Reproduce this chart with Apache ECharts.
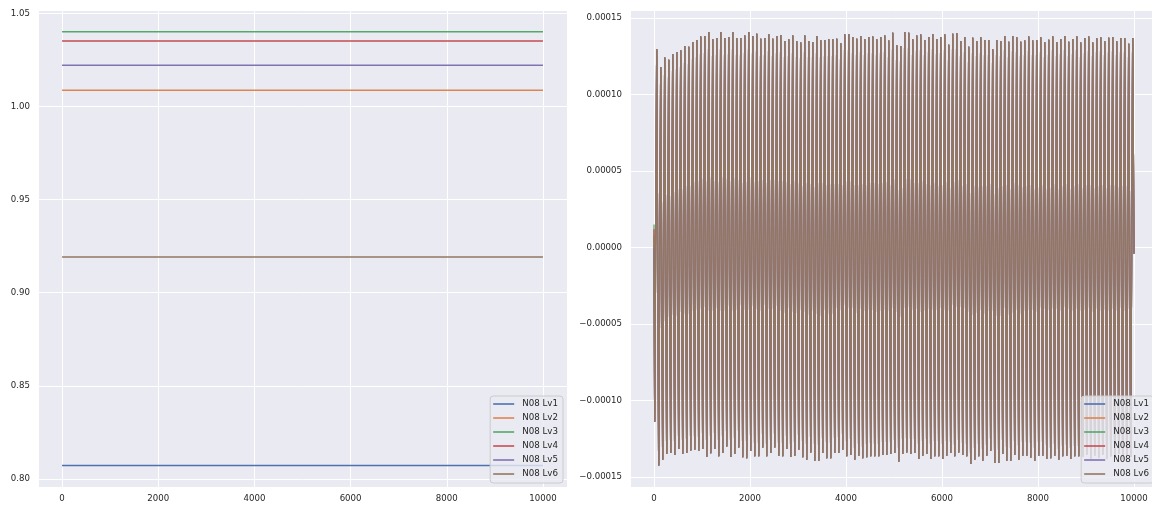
<!DOCTYPE html>
<html>
<head>
<meta charset="utf-8">
<title>N08 levels</title>
<script src="https://cdn.jsdelivr.net/npm/echarts@6/dist/echarts.min.js"></script>
<style>
  html, body { margin: 0; padding: 0; background: #ffffff; }
  #chart { width: 1152px; height: 506px; }
</style>
</head>
<body>
<div id="chart"></div>
<script>
// ---- series names and colours (seaborn "deep" palette) ----
const seriesNames = ['N08 Lv1', 'N08 Lv2', 'N08 Lv3', 'N08 Lv4', 'N08 Lv5', 'N08 Lv6'];
const seriesColors = ['#4C72B0', '#DD8452', '#55A868', '#C44E52', '#8172B3', '#937860'];

// ---- left panel: level of each series over time ----
const levelTimes = [0, 2000, 4000, 6000, 8000, 10000];
const lv1Level = [0.8073, 0.8073, 0.8073, 0.8073, 0.8073, 0.8073];
const lv2Level = [1.0087, 1.0087, 1.0087, 1.0087, 1.0087, 1.0087];
const lv3Level = [1.0401, 1.0401, 1.0401, 1.0401, 1.0401, 1.0401];
const lv4Level = [1.0352, 1.0352, 1.0352, 1.0352, 1.0352, 1.0352];
const lv5Level = [1.0221, 1.0221, 1.0221, 1.0221, 1.0221, 1.0221];
const lv6Level = [0.9192, 0.9192, 0.9192, 0.9192, 0.9192, 0.9192];

// ---- right panel: oscillation, one trough and one peak per cycle ----
const cycleLength = 83.33;      // time units per oscillation cycle
const troughOffset = 14.6;      // time of the first trough
const peakOffset = 56.3;        // time of the first peak
const startValues = [0, 0, 15e-6, 12e-6, 0, 8e-6];   // value at t = 0 for Lv1..Lv6
const endTime = 10000;
const endValue = -4e-6;

const troughValues = [
  -114.0e-6,-142.6e-6,-138.8e-6,-135.1e-6,-134.4e-6,-135.7e-6,-131.8e-6,-135.1e-6,-134.4e-6,-132.7e-6,
  -132.2e-6,-132.9e-6,-131.8e-6,-136.8e-6,-134.6e-6,-131.8e-6,-136.5e-6,-134.4e-6,-130.1e-6,-137.0e-6,
  -135.1e-6,-130.8e-6,-137.2e-6,-137.8e-6,-133.1e-6,-136.5e-6,-136.5e-6,-130.8e-6,-136.5e-6,-134.4e-6,
  -130.8e-6,-136.1e-6,-136.5e-6,-131.8e-6,-137.0e-6,-136.1e-6,-132.2e-6,-137.2e-6,-138.8e-6,-134.0e-6,
  -139.4e-6,-139.4e-6,-134.4e-6,-137.8e-6,-137.8e-6,-134.4e-6,-134.4e-6,-132.2e-6,-136.5e-6,-135.7e-6,
  -138.8e-6,-136.1e-6,-137.8e-6,-137.2e-6,-136.5e-6,-136.5e-6,-136.5e-6,-135.7e-6,-135.7e-6,-135.1e-6,
  -134.4e-6,-140.1e-6,-135.1e-6,-134.0e-6,-135.1e-6,-134.4e-6,-138.3e-6,-136.1e-6,-135.1e-6,-138.3e-6,
  -136.5e-6,-136.5e-6,-138.3e-6,-136.1e-6,-134.4e-6,-136.5e-6,-134.0e-6,-135.7e-6,-136.5e-6,-141.5e-6,
  -138.8e-6,-136.5e-6,-139.4e-6,-136.1e-6,-132.9e-6,-140.9e-6,-140.9e-6,-135.1e-6,-139.4e-6,-139.4e-6,
  -135.7e-6,-138.8e-6,-136.1e-6,-136.1e-6,-137.4e-6,-139.4e-6,-136.1e-6,-136.1e-6,-138.3e-6,-137.8e-6,
  -136.1e-6,-138.8e-6,-136.5e-6,-136.1e-6,-138.3e-6,-136.5e-6,-136.5e-6,-137.0e-6,-135.5e-6,-138.0e-6,
  -136.0e-6,-137.5e-6,-135.5e-6,-138.0e-6,-136.5e-6,-137.0e-6,-135.0e-6,-138.5e-6,-136.0e-6,-137.0e-6
];
const peakValues = [
  129.7e-6,118.0e-6,124.2e-6,122.7e-6,126.6e-6,127.9e-6,129.0e-6,131.8e-6,131.2e-6,134.4e-6,
  135.7e-6,137.9e-6,138.3e-6,140.9e-6,136.1e-6,137.0e-6,140.9e-6,137.0e-6,137.6e-6,140.9e-6,
  136.8e-6,137.0e-6,138.7e-6,140.9e-6,138.3e-6,139.8e-6,136.5e-6,137.0e-6,139.4e-6,136.5e-6,
  138.3e-6,138.9e-6,135.1e-6,136.1e-6,138.7e-6,134.9e-6,134.0e-6,138.7e-6,135.1e-6,134.4e-6,
  138.3e-6,135.5e-6,135.7e-6,136.1e-6,136.1e-6,136.5e-6,133.5e-6,139.4e-6,139.4e-6,137.6e-6,
  136.5e-6,138.3e-6,136.1e-6,137.6e-6,137.9e-6,136.1e-6,137.6e-6,138.7e-6,135.3e-6,140.5e-6,
  132.3e-6,131.8e-6,140.9e-6,140.5e-6,136.1e-6,138.7e-6,139.2e-6,135.7e-6,137.6e-6,139.6e-6,
  136.3e-6,137.6e-6,139.4e-6,132.5e-6,139.8e-6,140.3e-6,135.1e-6,137.6e-6,131.2e-6,137.2e-6,
  135.1e-6,137.4e-6,135.7e-6,135.7e-6,129.7e-6,135.7e-6,135.1e-6,138.3e-6,134.6e-6,138.3e-6,
  137.4e-6,134.6e-6,135.3e-6,137.9e-6,135.3e-6,135.7e-6,137.4e-6,134.2e-6,135.9e-6,138.1e-6,
  134.4e-6,136.3e-6,138.3e-6,134.6e-6,136.3e-6,138.1e-6,134.0e-6,137.0e-6,137.9e-6,134.0e-6,
  136.8e-6,137.4e-6,134.9e-6,137.2e-6,137.6e-6,134.9e-6,137.0e-6,137.0e-6,133.3e-6,137.0e-6
];

// ---- styling ----
const PANEL_BG = '#EAEAF2';
const TEXT_COLOR = '#262626';
const TICK_FONT = 8.6;

// Pair the level arrays with their time stamps.
const levelArrays = [lv1Level, lv2Level, lv3Level, lv4Level, lv5Level, lv6Level];
function levelData(values) {
  return values.map((v, i) => [levelTimes[i], v]);
}

// Alternate troughs and peaks along the cycle time base.
function oscillationData(startValue) {
  const pts = [[0, startValue]];
  for (let k = 0; k < troughValues.length; k++) {
    pts.push([troughOffset + k * cycleLength, troughValues[k]]);
    pts.push([peakOffset + k * cycleLength, peakValues[k]]);
  }
  pts.push([endTime, endValue]);
  return pts;
}

function valueAxis(gridIndex, min, max, formatter, isX) {
  return {
    type: 'value',
    gridIndex: gridIndex,
    min: min,
    max: max,
    splitNumber: 5,
    axisLine: { show: false },
    axisTick: { show: false },
    axisLabel: {
      show: true,
      color: TEXT_COLOR,
      fontSize: TICK_FONT,
      fontFamily: 'DejaVu Sans',
      margin: isX ? 7 : 8,
      showMinLabel: false,
      showMaxLabel: false,
      formatter: formatter
    },
    splitLine: { show: true, lineStyle: { color: '#ffffff', width: 1 } }
  };
}

const timeFormatter = v => String(Math.round(v));
const levelFormatter = v => v.toFixed(2);
const smallFormatter = v => {
  const s = Math.abs(v).toFixed(5);
  return (v < -1e-12 ? '\u2212' : '') + s;
};

function legendFor(rightPx) {
  return {
    data: seriesNames.map(n => ({ name: n, icon: 'rect' })),
    orient: 'vertical',
    right: rightPx,
    bottom: 23,
    itemWidth: 21,
    itemHeight: 1.6,
    itemGap: 4,
    padding: [3, 5, 4, 3],
    backgroundColor: 'rgba(234,234,242,0.8)',
    borderColor: '#cccccc',
    borderWidth: 1,
    borderRadius: 3,
    textStyle: {
      color: TEXT_COLOR,
      fontSize: 8.7,
      fontFamily: 'DejaVu Sans',
      lineHeight: 10,
      padding: [0, 0, 0, 3]
    }
  };
}

const series = [];
seriesNames.forEach((name, i) => {
  series.push({
    name: name,
    type: 'line',
    xAxisIndex: 0,
    yAxisIndex: 0,
    data: levelData(levelArrays[i]),
    symbol: 'none',
    lineStyle: { color: seriesColors[i], width: 1.5 },
    itemStyle: { color: seriesColors[i] },
    emphasis: { disabled: true }
  });
});
seriesNames.forEach((name, i) => {
  series.push({
    name: name,
    type: 'line',
    xAxisIndex: 1,
    yAxisIndex: 1,
    data: oscillationData(startValues[i]),
    symbol: 'none',
    lineStyle: { color: seriesColors[i], width: 1.3 },
    itemStyle: { color: seriesColors[i] },
    emphasis: { disabled: true }
  });
});

const chart = echarts.init(document.getElementById('chart'), null, { renderer: 'canvas' });
chart.setOption({
  animation: false,
  backgroundColor: '#ffffff',
  textStyle: { fontFamily: 'DejaVu Sans' },
  grid: [
    { left: 38, right: 585, top: 10, bottom: 19, show: true, backgroundColor: PANEL_BG, borderWidth: 0, containLabel: false, outerBoundsMode: 'none' },
    { left: 630, right: -6, top: 10, bottom: 19, show: true, backgroundColor: PANEL_BG, borderWidth: 0, containLabel: false, outerBoundsMode: 'none' }
  ],
  xAxis: [
    valueAxis(0, -500, 10500, timeFormatter, true),
    valueAxis(1, -500, 10500, timeFormatter, true)
  ],
  yAxis: [
    valueAxis(0, 0.7957, 1.0518, levelFormatter, false),
    valueAxis(1, -156.6e-6, 155.3e-6, smallFormatter, false)
  ],
  legend: [legendFor(589), legendFor(-2)],
  series: series
});
</script>
</body>
</html>
